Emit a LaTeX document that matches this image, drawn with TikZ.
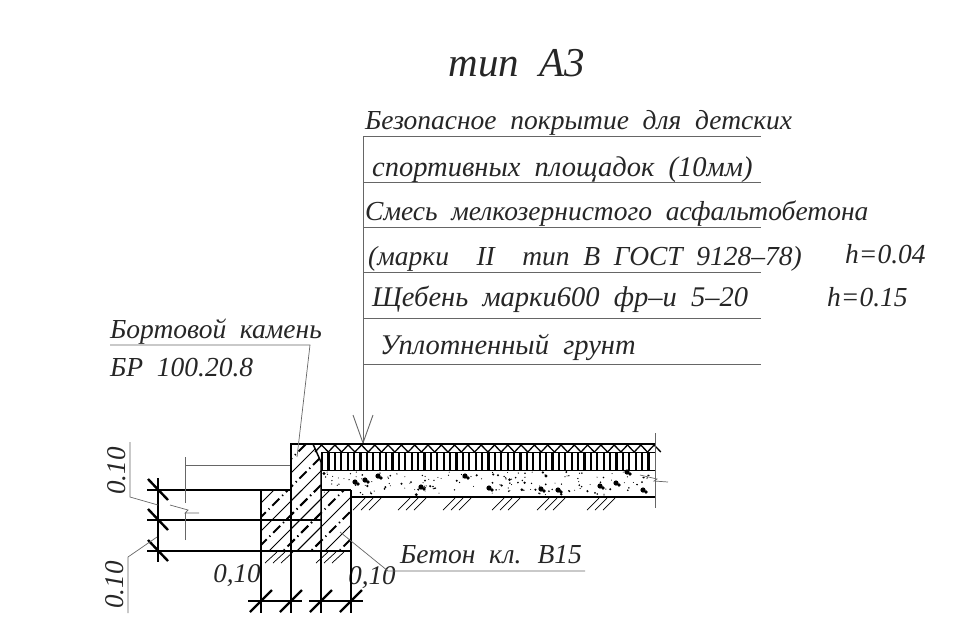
\documentclass[tikz,border=0pt]{standalone}
\usepackage{fontspec}
\setmainfont[WordSpace=2.0]{Liberation Serif}
\usetikzlibrary{positioning}
\newcommand{\hatchzone}{
  \foreach \s in {176,204,...,372} {
    \draw[hatchline] (\s,560) -- (\s+130,430);
    \draw[dashhatch] (\s+14,560) -- (\s+144,430);
  }
}
\tikzset{
  rowtext/.style={anchor=base west,inner sep=0pt,font=\fontsize{28.5}{30}\selectfont\itshape,text=black!85},
  rowsmall/.style={rowtext,font=\fontsize{27.5}{30}\selectfont\itshape},
  dimtext/.style={inner sep=0pt,font=\fontsize{27}{30}\selectfont\itshape,text=black!85},
  thinline/.style={draw=black!60,line width=0.9pt},
  mainline/.style={draw=black,line width=1.5pt},
  tickline/.style={draw=black,line width=2.4pt},
  hatchline/.style={draw=black,line width=1pt},
  dashhatch/.style={draw=black,line width=1.8pt,dash pattern=on 10pt off 4pt on 1.2pt off 4pt}
}
\begin{document}
\begin{tikzpicture}[x=1pt,y=-1pt]
  \useasboundingbox (0,0) rectangle (956,630);
  % texts
  \node[dimtext,font=\fontsize{41}{44}\selectfont\itshape] (title) at (517,63) {тип А3};
  \node[rowsmall] (row_a) at (365,129) {Безопасное покрытие для детских};
  \node[rowtext] (row_b) at (372,176) {спортивных площадок (10мм)};
  \node[rowsmall] (row_c) at (365,220) {Смесь мелкозернистого асфальтобетона};
  \node[rowsmall] (row_d) at (368,265) {(марки\ \ II\ \ тип В ГОСТ 9128--78)};
  \node[rowtext] (row_e) at (372,306) {Щебень марки600 фр--и 5--20};
  \node[rowtext] (row_f) at (380,354) {Уплотненный грунт};
  \node[rowsmall] (h_a) at (845,263) {h=0.04};
  \node[rowsmall] (h_b) at (827,306) {h=0.15};
  \node[rowsmall] (curb_a) at (110,338) {Бортовой камень};
  \node[rowsmall] (curb_b) at (110,376) {БР 100.20.8};
  \node[rowsmall] (conc) at (400,563) {Бетон кл. В15};
  \node[dimtext] (dim_a) at (237,576) {0,10};
  \node[dimtext] (dim_b) at (372,578) {0,10};
  \node[dimtext,rotate=90] (dim_c) at (117,471) {0.10};
  \node[dimtext,rotate=90] (dim_d) at (115,585) {0.10};
  % leader table
  \foreach \y in {136,182,227,272,318,364}
    \draw[thinline] (363,\y) -- (761,\y);
  \coordinate (tip) at (363,443);
  \draw[thinline] (363,136) -- (tip);
  \draw[thinline] (353,415) -- (tip) -- (373,415);
  % curb and concrete hatching
  \begin{scope}
    \clip (261,490) rectangle (351,551);
    \hatchzone
  \end{scope}
  \begin{scope}
    \clip (291,444) -- (313,444) -- (321,462) -- (321,551) -- (291,551) -- cycle;
    \hatchzone
  \end{scope}
  % road layers
  \foreach \k in {0,...,25}
    \draw[draw=black,line width=1.3pt] (315+13.3*\k,452) -- (321.6+13.3*\k,445) -- (328.3+13.3*\k,452);
  \foreach \k in {0,...,51}
    \draw[draw=black,line width=2.2pt] (322+6.4*\k,452) -- (322+6.4*\k,470);
  \pgfmathsetseed{11}
  \foreach \i in {1,...,170} {
    \pgfmathsetmacro{\px}{324+328*rnd}
    \pgfmathsetmacro{\py}{472+23*rnd}
    \pgfmathsetmacro{\pr}{0.5+1.2*rnd*rnd}
    \fill[black] (\px,\py) circle (\pr pt);
  }
  \foreach \px/\py in {355/482,365/480,421/487,465/476,489/488,541/489,616/483,558/490,600/486,643/490,627/472,378/476} {
    \fill[black] (\px,\py) circle (2.6pt);
    \fill[black] (\px+3,\py+2) circle (1.8pt);
  }
  % outlines
  \draw[mainline] (291,551) -- (291,444) -- (655,444);
  \draw[mainline] (313,444) -- (321,462) -- (321,551);
  \draw[hatchline] (321,452) -- (655,452);
  \draw[hatchline] (321,470) -- (655,470);
  \draw[mainline] (351,497) -- (655,497);
  \draw[mainline] (147,490) -- (291,490) (321,490) -- (351,490);
  \draw[mainline] (147,520) -- (321,520);
  \draw[mainline] (147,551) -- (351,551);
  \draw[mainline] (261,490) -- (261,613) (291,551) -- (291,613) (321,551) -- (321,613) (351,490) -- (351,613);
  \draw[mainline] (158,478) -- (158,562);
  \draw[mainline] (248,601) -- (302,601) (309,601) -- (363,601);
  \draw[thinline,line width=0.7pt] (655,433) -- (655,508);
  % ticks
  \foreach \y in {490,520,551}
    \draw[tickline] (148,\y-11) -- (168,\y+10);
  \foreach \x in {261,291,321,351}
    \draw[tickline] (\x-11,612) -- (\x+11,590);
  % ground hatching
  \foreach \gx in {353,398,443,492,537,587}
    \foreach \d in {0,8,16}
      \draw[hatchline,line width=0.7pt] (\gx+\d,510) -- (\gx+\d+12,498);
  \foreach \gx in {265,316}
    \foreach \d in {0,8,16}
      \draw[hatchline,line width=0.7pt] (\gx+\d,563) -- (\gx+\d+12,552);
  % leaders and breaks
  \draw[thinline,line width=0.7pt] (130,442) -- (130,497) -- (158,505);
  \draw[thinline,line width=0.7pt] (128,613) -- (128,557) -- (157,537);
  \draw[thinline] (185,540) -- (185,513) (185,503) -- (185,457) (185,465) -- (290,465);
  \draw[thinline,line width=0.7pt] (170,505) -- (188,510) -- (185,513) -- (199,513);
  \draw[thinline,line width=0.7pt] (640,475) -- (657,479) -- (654,481) -- (668,482);
  \coordinate (curb_end) at (297,457);
  \draw[thinline,line width=0.7pt] (110,345) -- (310,345) -- (curb_end);
  \coordinate (conc_end) at (340,532);
  \draw[thinline,line width=0.7pt] (conc_end) -- (388,571) -- (585,571);
\end{tikzpicture}
\end{document}
